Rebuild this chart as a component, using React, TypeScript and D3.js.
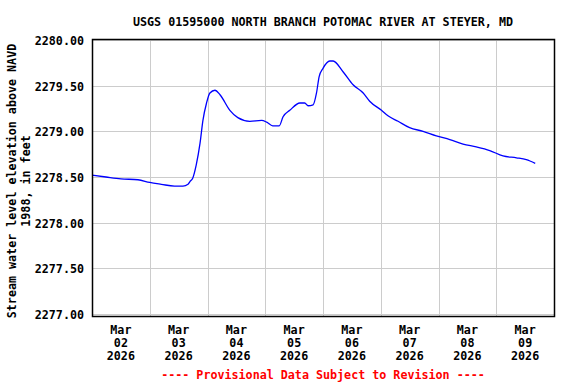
import React, { useEffect, useRef } from "react";
import * as d3 from "d3";

// hours since Mar 02 2026 00:00 and water level (ft)
const hours = [
  0, 5.8, 12, 19.1, 24, 28.8, 34.3, 37.8, 39.9, 40.7, 41.9, 43.3, 44.9, 46.1,
  47.6, 49, 51.1, 53.2, 57.3, 60.6, 65.6, 70.5, 72.6, 75.1, 77.8, 79.4, 82.2,
  86.4, 88.4, 89.8, 91.9, 93.3, 94.4, 96, 98.8, 100.2, 104.4, 108.5, 112.7,
  115.4, 120.3, 123, 127.2, 132, 137.6, 143.1, 148.7, 154.2, 159.7, 165.3,
  170.8, 176.4, 180.5, 184.2,
];
const levels = [
  2278.52, 2278.5, 2278.48, 2278.47, 2278.44, 2278.42, 2278.4, 2278.4, 2278.42,
  2278.45, 2278.49, 2278.63, 2278.87, 2279.12, 2279.31, 2279.42, 2279.45,
  2279.4, 2279.23, 2279.15, 2279.11, 2279.12, 2279.1, 2279.06, 2279.06, 2279.16,
  2279.23, 2279.31, 2279.31, 2279.28, 2279.29, 2279.42, 2279.6, 2279.69,
  2279.77, 2279.77, 2279.65, 2279.51, 2279.42, 2279.33, 2279.23, 2279.17,
  2279.11, 2279.04, 2279.0, 2278.95, 2278.91, 2278.86, 2278.83, 2278.79,
  2278.73, 2278.71, 2278.69, 2278.65,
];
const yTicks = [2277, 2277.5, 2278, 2278.5, 2279, 2279.5, 2280];
const dayLabels = ["02", "03", "04", "05", "06", "07", "08", "09"];

const title = "USGS 01595000 NORTH BRANCH POTOMAC RIVER AT STEYER, MD";
const yLabel1 = "Stream water level elevation above NAVD";
const yLabel2 = "1988, in feet";
const footer = "---- Provisional Data Subject to Revision ----";

const App = () => {
  const svgRef = useRef<SVGSVGElement>(null);

  useEffect(() => {
    const svg = d3.select(svgRef.current);
    svg.selectAll("*").remove();

    const left = 92, right = 554, top = 40, bottom = 316;
    const font = "'DejaVu Sans Mono', monospace";

    const start = new Date(2026, 2, 2);
    const end = new Date(2026, 2, 10);
    const x = d3.scaleTime().domain([start, end]).range([left, right]);
    const y = d3.scaleLinear().domain([2277, 2280]).range([314, top]);

    const data = hours.map((h, i) => ({
      t: new Date(start.getTime() + h * 3600 * 1000),
      v: levels[i],
    }));

    // grid
    const days = d3.timeDay.range(d3.timeDay.offset(start, 1), end);
    svg
      .append("g")
      .selectAll("line")
      .data(days)
      .join("line")
      .attr("x1", (d) => Math.round(x(d)) + 0.5)
      .attr("x2", (d) => Math.round(x(d)) + 0.5)
      .attr("y1", top)
      .attr("y2", bottom)
      .attr("stroke", "#cccccc");

    svg
      .append("g")
      .selectAll("line")
      .data(yTicks)
      .join("line")
      .attr("x1", left)
      .attr("x2", right)
      .attr("y1", (d) => Math.round(y(d)) + 0.5)
      .attr("y2", (d) => Math.round(y(d)) + 0.5)
      .attr("stroke", "#cccccc");

    // data line
    const line = d3
      .line<{ t: Date; v: number }>()
      .curve(d3.curveMonotoneX)
      .x((d) => x(d.t))
      .y((d) => y(d.v));

    svg
      .append("path")
      .datum(data)
      .attr("fill", "none")
      .attr("stroke", "#0000ff")
      .attr("stroke-width", 1.3)
      .attr("d", line);

    // frame
    svg
      .append("rect")
      .attr("x", left + 0.5)
      .attr("y", top - 0.5)
      .attr("width", right - left)
      .attr("height", bottom - top + 1)
      .attr("fill", "none")
      .attr("stroke", "#000")
      .attr("stroke-width", 1.5);

    const txt = (g: any) =>
      g
        .attr("font-family", font)
        .attr("font-weight", "bold")
        .attr("font-size", 11.7)
        .attr("fill", "#000");

    // y tick labels
    svg
      .append("g")
      .selectAll("text")
      .data(yTicks)
      .join("text")
      .call(txt)
      .attr("x", 84)
      .attr("y", (d) => y(d) + 5)
      .attr("text-anchor", "end")
      .text((d) => d3.format(".2f")(d));

    // x tick labels at noon
    const xl = svg
      .append("g")
      .selectAll("g")
      .data(dayLabels)
      .join("g")
      .attr("transform", (d, i) => {
        const noon = new Date(2026, 2, 2 + i, 12);
        return `translate(${x(noon)},0)`;
      });
    [["Mar", 334], [null, 347], ["2026", 360]].forEach(([s, yy]) => {
      xl.append("text")
        .call(txt)
        .attr("text-anchor", "middle")
        .attr("y", yy as number)
        .text((d) => (s === null ? d : (s as string)));
    });

    // title
    svg
      .append("text")
      .call(txt)
      .attr("x", (left + right) / 2)
      .attr("y", 26)
      .attr("text-anchor", "middle")
      .text(title);

    // y axis label
    const cy = (top + bottom) / 2 + 3;
    [[yLabel1, 16], [yLabel2, 30]].forEach(([s, xx]) => {
      svg
        .append("text")
        .call(txt)
        .attr("text-anchor", "middle")
        .attr("transform", `translate(${xx},${cy}) rotate(-90)`)
        .text(s as string);
    });

    // footer
    svg
      .append("text")
      .call(txt)
      .attr("fill", "#ff0000")
      .attr("x", (left + right) / 2)
      .attr("y", 379)
      .attr("text-anchor", "middle")
      .text(footer);
  }, []);

  return (
    <svg
      ref={svgRef}
      width={576}
      height={384}
      style={{ position: "absolute", left: 0, top: 0, background: "#fff" }}
    />
  );
};

export default App;
